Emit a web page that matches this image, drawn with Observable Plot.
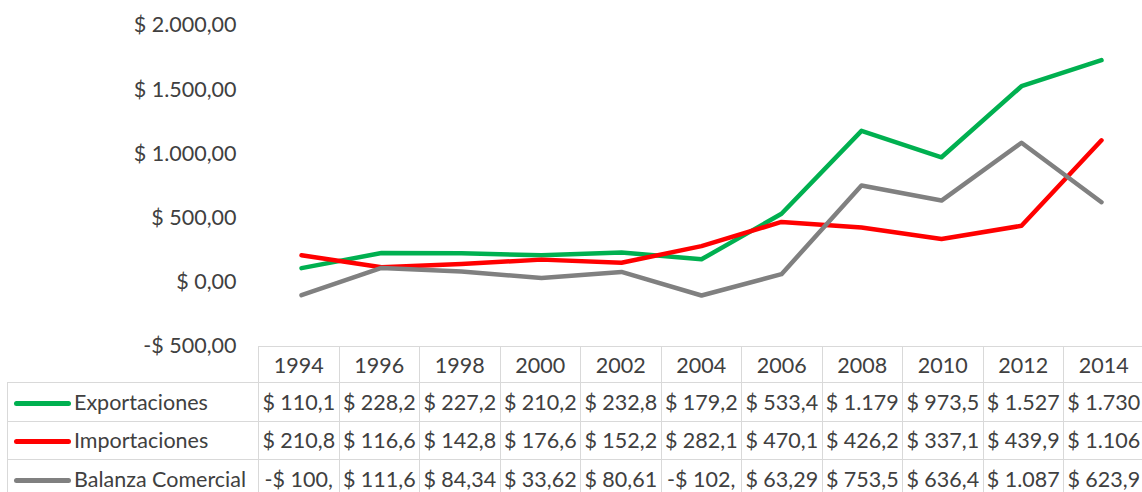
<!DOCTYPE html>
<html><head><meta charset="utf-8">
<script src="https://cdn.jsdelivr.net/npm/d3@7"></script>
<script src="https://cdn.jsdelivr.net/npm/@observablehq/plot@0.6"></script>
<style>
body{margin:0;background:#fff;}
#wrap{position:relative;width:1142px;height:492px;overflow:hidden;font-family:Lato,sans-serif;background:#fff;}
#chart{position:absolute;left:0;top:0;}
#chart svg{overflow:visible;}
#tbl{position:absolute;left:7px;top:346px;border-collapse:collapse;table-layout:fixed;font-size:21.5px;color:#404040;font-family:Lato,sans-serif;}
#tbl td{border:1.5px solid #d9d9d9;padding:0;text-align:center;white-space:nowrap;overflow:hidden;}
#tbl td.leg{text-align:left;padding-left:6px;}
#tbl td.blank{border-top:none;border-left:none;}
.sw{display:inline-block;width:57px;height:5px;border-radius:3px;vertical-align:middle;margin-right:3px;position:relative;top:-1px;}
</style>
</head><body>
<div id="wrap"><div id="chart"></div><table id="tbl"></table></div>
<script>
const years = [1994, 1996, 1998, 2000, 2002, 2004, 2006, 2008, 2010, 2012, 2014];
const exportaciones = [110.1, 228.2, 227.2, 210.2, 232.8, 179.2, 533.4, 1179.7, 973.5, 1527.0, 1730.0];
const importaciones = [210.8, 116.6, 142.8, 176.6, 152.2, 282.1, 470.1, 426.2, 337.1, 439.9, 1106.0];
const balanza = [-100.7, 111.6, 84.34, 33.62, 80.61, -102.9, 63.29, 753.5, 636.4, 1087.0, 623.9];
const seriesNames = ["Exportaciones", "Importaciones", "Balanza Comercial"];
const seriesColors = ["#00b050", "#ff0000", "#808080"];
const yTicks = [-500, 0, 500, 1000, 1500, 2000];

const seriesValues = [exportaciones, importaciones, balanza];
const rows = [];
seriesNames.forEach((name, i) => years.forEach((yr, j) => rows.push({serie: name, year: yr, value: seriesValues[i][j]})));

const money = v => {
  const s = Math.abs(v).toFixed(2).split(".");
  const int = s[0].replace(/\B(?=(\d{3})+(?!\d))/g, ".");
  return (v < 0 ? "-$ " : "$ ") + int + "," + s[1];
};
const cellText = v => money(v).slice(0, 7);

const left = 258, colW = 80.5;
const plot = Plot.plot({
  width: 1142, height: 350,
  marginTop: 25, marginBottom: 4, marginLeft: left, marginRight: 0,
  x: {type: "point", domain: years, padding: 0, range: [left + colW / 2, left + colW * 10.5], axis: null},
  y: {domain: [-500, 2000], axis: null},
  color: {domain: seriesNames, range: seriesColors},
  style: {fontFamily: "Lato, sans-serif", fontSize: "21.5px", color: "#404040", background: "transparent"},
  marks: [
    Plot.gridY(yTicks, {x1: left, x2: 1142, stroke: "#d9d9d9", strokeOpacity: 1, strokeWidth: 1.5}),
    Plot.axisY(yTicks, {tickSize: 0, tickPadding: 22, tickFormat: money, fill: "#404040", fontSize: 21.5, label: null}),
    Plot.line(rows, {x: "year", y: "value", z: "serie", stroke: "serie", strokeWidth: 4.5, strokeLinejoin: "round", strokeLinecap: "round"})
  ]
});
document.getElementById("chart").appendChild(plot);

// data table under the chart
const tbl = document.getElementById("tbl");
tbl.style.width = (251 + colW * 11) + "px";
let html = '<colgroup><col style="width:251px">' + years.map(() => `<col style="width:${colW}px">`).join("") + '</colgroup>';
html += '<tr style="height:36px"><td class="blank"></td>' + years.map(y => `<td>${y}</td>`).join("") + '</tr>';
seriesNames.forEach((name, i) => {
  html += `<tr style="height:38.5px"><td class="leg"><span class="sw" style="background:${seriesColors[i]}"></span>${name}</td>` +
    seriesValues[i].map(v => `<td>${cellText(v)}</td>`).join("") + '</tr>';
});
tbl.innerHTML = html;
</script>
</body></html>
